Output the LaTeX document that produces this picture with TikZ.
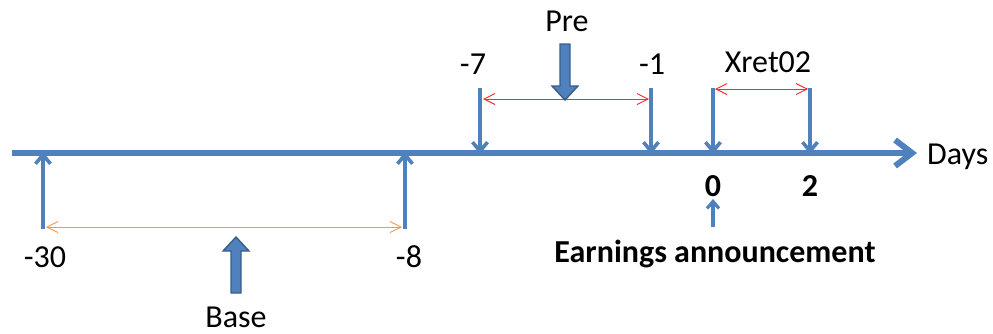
\documentclass[tikz,border=0pt]{standalone}
\usepackage{fontspec}
\setmainfont{Carlito}
\usetikzlibrary{arrows.meta}
\definecolor{axisblue}{RGB}{79,129,189}
\definecolor{edgeblue}{RGB}{56,93,138}
\definecolor{spanred}{RGB}{255,40,40}
\definecolor{spanorange}{RGB}{247,150,70}
\tikzset{
  axisline/.style={draw=axisblue, line width=6pt, -{Straight Barb[length=17pt,width=26pt,line width=6pt]}},
  tickarrow/.style={draw=axisblue, line width=3.6pt, -{Straight Barb[length=9pt,width=15pt,line width=3.6pt]}},
  spanarrow/.style={line width=0.9pt, {Straight Barb[length=11pt,width=11pt]}-{Straight Barb[length=11pt,width=11pt]}},
  blockarrow/.style={fill=axisblue, draw=edgeblue, line width=1.4pt, line join=miter},
  lbl/.style={font=\fontsize{32}{36}\selectfont, inner sep=0pt},
  boldlbl/.style={font=\fontsize{32}{36}\selectfont\bfseries, inner sep=0pt}
}
\begin{document}
\begin{tikzpicture}[x=1pt,y=-1pt]
\useasboundingbox (0,0) rectangle (993,333);

% main time axis
\coordinate (axisstart) at (12,153);
\coordinate (axisend) at (917,153);
\draw[axisline] (axisstart) -- (axisend);
\node[lbl, anchor=west] (days) at (927,157) {Days};

% day positions on the axis
\coordinate (d30) at (43,153);
\coordinate (d8) at (405,153);
\coordinate (d7) at (480,153);
\coordinate (d1) at (651,153);
\coordinate (d0) at (713,153);
\coordinate (d2) at (810,153);

% feet of the tick arrows
\coordinate (f30) at (43,229);
\coordinate (f8) at (405,229);
\coordinate (f7) at (480,88);
\coordinate (f1) at (651,88);
\coordinate (f0) at (713,88);
\coordinate (f2) at (810,88);

\draw[tickarrow, shorten >=-1pt] (f30) -- (d30);
\draw[tickarrow, shorten >=-1pt] (f8) -- (d8);
\draw[tickarrow, shorten >=-1pt] (f7) -- (d7);
\draw[tickarrow, shorten >=-1pt] (f1) -- (d1);
\draw[tickarrow, shorten >=-1pt] (f0) -- (d0);
\draw[tickarrow, shorten >=-1pt] (f2) -- (d2);

% window spans
\coordinate (preL) at (483,99);
\coordinate (preR) at (649,99);
\draw[spanarrow, spanred] (preL) -- (preR);
\coordinate (xrL) at (715,89);
\coordinate (xrR) at (808,89);
\draw[spanarrow, spanred] (xrL) -- (xrR);
\coordinate (baseL) at (46,227);
\coordinate (baseR) at (402,227);
\draw[spanarrow, spanorange] (baseL) -- (baseR);

% window pointers
\draw[blockarrow] (560,44) -- (570,44) -- (570,86) -- (578,86) -- (565,100) -- (552,86) -- (560,86) -- cycle;
\draw[blockarrow] (231,293) -- (241,293) -- (241,251) -- (249,251) -- (236,237) -- (223,251) -- (231,251) -- cycle;

% labels
\node[lbl] (pre) at (567,21) {Pre};
\node[lbl] (m7) at (473,64) {-7};
\node[lbl] (m1) at (652,64) {-1};
\node[lbl] (xret) at (768,62) {Xret02};
\node[lbl] (m30) at (45,257) {-30};
\node[lbl] (m8) at (409,257) {-8};
\node[lbl, anchor=base] (base) at (236,327) {Base};
\node[boldlbl] (z0) at (713,186) {0};
\node[boldlbl] (z2) at (810,186) {2};
\node[boldlbl] (ea) at (715,254) {Earnings announcement};

% pointer to the announcement day
\coordinate (eatip) at (713,199);
\coordinate (eafoot) at (713,227);
\draw[draw=axisblue, line width=3.2pt, -{Straight Barb[length=7pt,width=12pt,line width=3.2pt]}] (eafoot) -- (eatip);
\end{tikzpicture}
\end{document}
